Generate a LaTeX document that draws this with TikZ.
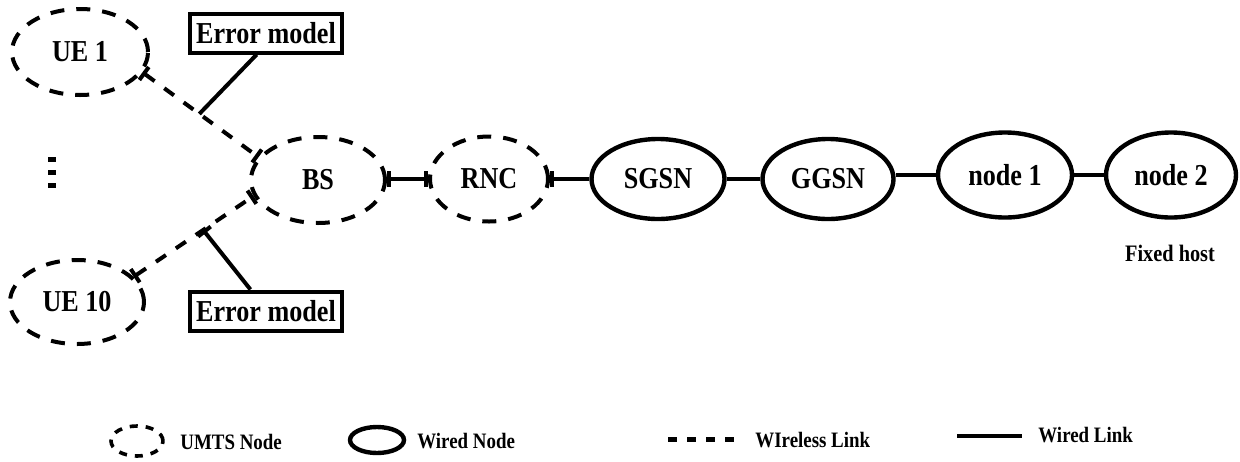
\documentclass[tikz,border=0pt]{standalone}
\usepackage{fontspec}
\setmainfont{Liberation Serif}
\newfontfamily\figfont[FakeStretch=0.86]{Liberation Serif}
\usetikzlibrary{shapes.geometric,arrows.meta,calc}
\begin{document}
\begin{tikzpicture}[x=0.5pt,y=-0.5pt,
  lbl/.style={font=\figfont\bfseries\fontsize{15.2}{17}\selectfont},
  umts/.style={ellipse,draw,line width=2pt,dash pattern=on 7pt off 6pt,lbl,inner sep=0pt},
  wired/.style={ellipse,draw,line width=2.2pt,lbl,inner sep=0pt},
  wless/.style={line width=2pt,dash pattern=on 6pt off 6pt},
  wline/.style={line width=2pt},
  errbox/.style={draw,line width=2pt,lbl,minimum height=19.5pt,inner sep=3pt},
  legtext/.style={font=\figfont\bfseries\fontsize{11}{13}\selectfont,inner sep=0pt,anchor=west},
  teetip/.tip={Bar[width=8pt,line width=2pt]}
]
\useasboundingbox (0,0) rectangle (1240,461);

% nodes
\node[umts,minimum width=68pt,minimum height=43pt] (ue1) at (80,52) {UE 1};
\node[umts,minimum width=67pt,minimum height=42pt] (ue10) at (77,302) {UE 10};
\node[umts,minimum width=67pt,minimum height=43pt] (bs) at (318,180) {BS};
\node[umts,minimum width=59pt,minimum height=42.5pt] (rnc) at (489,179) {RNC};
\node[wired,minimum width=66.5pt,minimum height=40pt] (sgsn) at (658,179) {SGSN};
\node[wired,minimum width=65.5pt,minimum height=40pt] (ggsn) at (828,179) {GGSN};
\node[wired,minimum width=67pt,minimum height=42.5pt] (n1) at (1005,175) {node 1};
\node[wired,minimum width=65pt,minimum height=42.5pt] (n2) at (1171,175) {node 2};

% vertical dots
\draw[line width=4pt,dash pattern=on 2.5pt off 4pt] (52,157) -- (52,190);

% links
\draw[wless,teetip-teetip] (ue1.-18) -- (bs.159);
\draw[wless,teetip-teetip] (ue10.24) -- (bs.-166);
\draw[wline,teetip-teetip] (rnc.west -| bs.east) -- (rnc.west);
\draw[wline,teetip-] (rnc.east) -- (sgsn.west);
\draw[wline] (sgsn.east) -- (ggsn.west);
\draw[wline] (n1.west -| ggsn.east) -- (n1.west);
\draw[wline] (n1.east) -- (n2.west);

% error models
\node[errbox] (em1) at (266,33) {Error model};
\node[errbox] (em2) at (266,311) {Error model};
\coordinate (p1) at ($(ue1.-18)!0.49!(bs.159)$);
\coordinate (p2) at ($(ue10.24)!0.58!(bs.-166)$);
\draw[wline] ($(em1.south west)!0.44!(em1.south east)$) -- (p1);
\draw[wline,-teetip] ($(em2.north west)!0.4!(em2.north east)$) -- (p2);

\node[font=\figfont\bfseries\fontsize{11.8}{13}\selectfont] (fh) at (1170,253) {Fixed host};

% legend
\node[ellipse,draw,line width=1.8pt,dash pattern=on 4pt off 4pt,minimum width=26pt,minimum height=15pt,inner sep=0pt] (lu) at (137,441) {};
\node[legtext] (lut) at (180,442) {UMTS Node};
\node[ellipse,draw,line width=2.2pt,minimum width=27pt,minimum height=13pt,inner sep=0pt] (lw) at (377,440) {};
\node[legtext] (lwt) at (417,441) {Wired Node};
\coordinate (la) at (668,439);
\coordinate (lb) at (737,439);
\draw[line width=2.5pt,dash pattern=on 4.5pt off 5pt] (la) -- (lb);
\node[legtext] (lat) at (755,440) {WIreless Link};
\coordinate (lc) at (957,436);
\coordinate (ld) at (1022,436);
\draw[wline] (lc) -- (ld);
\node[legtext] (lct) at (1038,435) {Wired Link};
\end{tikzpicture}
\end{document}
